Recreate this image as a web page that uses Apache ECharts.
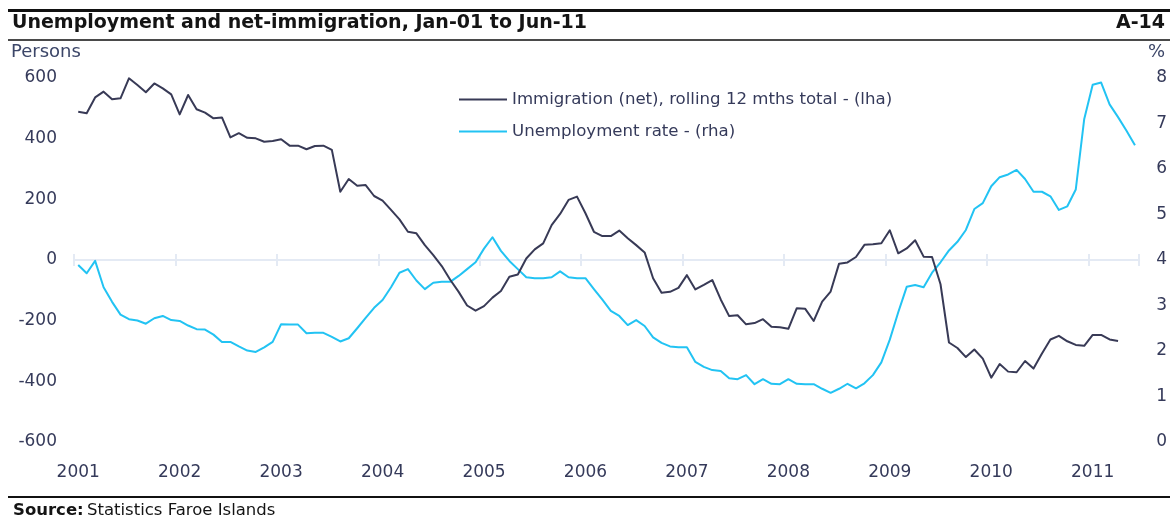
<!DOCTYPE html>
<html>
<head>
<meta charset="utf-8">
<script src="https://cdn.jsdelivr.net/npm/echarts@6/dist/echarts.min.js"></script>
<style>
  html, body { margin: 0; padding: 0; background: #ffffff; }
  #chart { width: 1170px; height: 517px; }
</style>
</head>
<body>
<div id="chart"></div>
<script>
// ---- data ----
const years = ['2001','2002','2003','2004','2005','2006','2007','2008','2009','2010','2011'];
const monthCodes = ['01','02','03','04','05','06','07','08','09','10','11','12'];
const categories = years.flatMap(y => monthCodes.map(m => y + '-' + m)).slice(0, 126); // Jan-01 .. Jun-11

const immigrationNet = [
  489, 484, 536, 555, 530, 533, 599, 577, 553, 582, 566, 546,
  480, 544, 497, 486, 467, 470, 404, 418, 403, 401, 390, 392,
  398, 377, 377, 365, 376, 377, 363, 225, 267, 245, 247, 211,
  196, 165, 134, 93, 88, 49, 16, -20, -65, -105, -150, -167,
  -152, -124, -102, -55, -48, 5, 35, 55, 115, 152, 198, 209,
  154, 93, 79, 79, 97, 72, 49, 25, -60, -108, -105, -92,
  -50, -97, -82, -66, -130, -185, -182, -212, -208, -195, -220, -222,
  -227, -159, -161, -201, -137, -104, -12, -8, 10, 50, 52, 55,
  98, 22, 38, 65, 11, 10, -80, -272, -290, -320, -295, -325,
  -388, -343, -368, -370, -333, -358, -308, -262, -250, -268, -280, -283,
  -247, -247, -262, -267, null, null
];

const unemploymentRate = [
  3.89, 3.71, 3.98, 3.40, 3.08, 2.80, 2.70, 2.67, 2.60, 2.72, 2.77, 2.68,
  2.66, 2.56, 2.48, 2.47, 2.36, 2.20, 2.20, 2.10, 2.01, 1.98, 2.08, 2.20,
  2.59, 2.58, 2.58, 2.39, 2.40, 2.40, 2.31, 2.21, 2.28, 2.50, 2.73, 2.95,
  3.12, 3.40, 3.72, 3.80, 3.55, 3.36, 3.50, 3.52, 3.52, 3.65, 3.80, 3.95,
  4.25, 4.50, 4.20, 3.98, 3.80, 3.62, 3.60, 3.60, 3.62, 3.75, 3.62, 3.60,
  3.60, 3.36, 3.13, 2.88, 2.77, 2.57, 2.68, 2.55, 2.30, 2.18, 2.10, 2.08,
  2.08, 1.76, 1.65, 1.58, 1.56, 1.40, 1.38, 1.47, 1.27, 1.38, 1.28, 1.27,
  1.38, 1.28, 1.27, 1.27, 1.17, 1.08, 1.17, 1.28, 1.18, 1.29, 1.47, 1.75,
  2.25, 2.85, 3.41, 3.45, 3.40, 3.72, 3.95, 4.21, 4.40, 4.66, 5.12, 5.25,
  5.62, 5.82, 5.88, 5.98, 5.78, 5.50, 5.50, 5.40, 5.10, 5.18, 5.55, 7.10,
  7.85, 7.90, 7.42, 7.14, 6.84, 6.52
];

const seriesNames = ['Immigration (net), rolling 12 mths total - (lha)', 'Unemployment rate - (rha)'];
const leftTicks = { min: -600, max: 600, interval: 200 };
const rightTicks = { min: 0, max: 8, interval: 1 };

// ---- chart ----
const FONT = 'DejaVu Sans';
const LABEL_COLOR = '#353a5a';
const DARK = '#383a56';
const CYAN = '#22c3f3';
const AXIS_COLOR = '#e4eaf4';

const chart = echarts.init(document.getElementById('chart'), null, { renderer: 'canvas' });

const option = {
  animation: false,
  backgroundColor: '#ffffff',
  textStyle: { fontFamily: FONT },
  grid: { left: 74, right: 30, top: 78, bottom: 75, containLabel: false },
  legend: {
    orient: 'vertical',
    left: 454,
    top: 85,
    itemWidth: 48,
    itemHeight: 2,
    itemGap: 13,
    icon: 'rect',
    data: seriesNames,
    textStyle: { fontFamily: FONT, fontSize: 16.6, color: LABEL_COLOR, lineHeight: 19 }
  },
  xAxis: [
    {
      type: 'category',
      data: categories,
      boundaryGap: true,
      position: 'bottom',
      axisLine: { show: false, onZero: false },
      axisTick: { show: false },
      splitLine: { show: false },
      axisLabel: {
        interval: 11,
        margin: 22,
        fontFamily: FONT,
        fontSize: 17,
        color: LABEL_COLOR,
        formatter: v => v.slice(0, 4)
      }
    },
    {
      type: 'category',
      data: categories,
      boundaryGap: true,
      position: 'bottom',
      axisLine: { show: true, onZero: true, onZeroAxisIndex: 0, lineStyle: { color: AXIS_COLOR, width: 2 } },
      axisTick: { show: true, interval: 11, length: 6, inside: false, lineStyle: { color: AXIS_COLOR, width: 2 } },
      axisLabel: { show: false },
      splitLine: { show: false }
    },
    {
      type: 'category',
      data: categories,
      boundaryGap: true,
      position: 'bottom',
      axisLine: { show: false, onZero: true, onZeroAxisIndex: 0 },
      axisTick: { show: true, interval: 11, length: 6, inside: true, lineStyle: { color: AXIS_COLOR, width: 2 } },
      axisLabel: { show: false },
      splitLine: { show: false }
    }
  ],
  yAxis: [
    {
      type: 'value',
      position: 'left',
      min: leftTicks.min, max: leftTicks.max, interval: leftTicks.interval,
      axisLine: { show: false },
      axisTick: { show: false },
      splitLine: { show: false },
      axisLabel: { margin: 17, fontFamily: FONT, fontSize: 17, color: LABEL_COLOR }
    },
    {
      type: 'value',
      position: 'right',
      min: rightTicks.min, max: rightTicks.max, interval: rightTicks.interval,
      axisLine: { show: false },
      axisTick: { show: false },
      splitLine: { show: false },
      axisLabel: { margin: 17, fontFamily: FONT, fontSize: 17, color: LABEL_COLOR }
    }
  ],
  series: [
    {
      name: seriesNames[0],
      type: 'line',
      xAxisIndex: 0,
      yAxisIndex: 0,
      data: immigrationNet,
      showSymbol: false,
      symbol: 'none',
      lineStyle: { color: DARK, width: 2, join: 'round' },
      itemStyle: { color: DARK },
      z: 3
    },
    {
      name: seriesNames[1],
      type: 'line',
      xAxisIndex: 0,
      yAxisIndex: 1,
      data: unemploymentRate,
      showSymbol: false,
      symbol: 'none',
      lineStyle: { color: CYAN, width: 2, join: 'round' },
      itemStyle: { color: CYAN },
      z: 2
    }
  ],
  graphic: [
    { type: 'rect', shape: { x: 8, y: 9, width: 1162, height: 3 }, style: { fill: '#111111' }, silent: true },
    { type: 'rect', shape: { x: 8, y: 39, width: 1162, height: 2 }, style: { fill: '#4a4a4a' }, silent: true },
    { type: 'rect', shape: { x: 8, y: 496, width: 1162, height: 2 }, style: { fill: '#111111' }, silent: true },
    { type: 'text', left: 12, top: 14, style: { text: 'Unemployment and net-immigration, Jan-01 to Jun-11', font: 'bold 19px "DejaVu Sans"', fill: '#141414' } },
    { type: 'text', right: 5, top: 14, style: { text: 'A-14', font: 'bold 19px "DejaVu Sans"', fill: '#141414' } },
    { type: 'text', left: 11, top: 43, style: { text: 'Persons', font: '18px "DejaVu Sans"', fill: '#3c4668' } },
    { type: 'text', right: 5, top: 43, style: { text: '%', font: '18px "DejaVu Sans"', fill: '#3c4668' } },
    { type: 'text', left: 13, top: 502, style: { rich: { b: { font: 'bold 16.5px "DejaVu Sans"', fill: '#141414' }, n: { font: '16.5px "DejaVu Sans"', fill: '#141414' } }, text: '{b|Source:} {n|Statistics Faroe Islands}' } }
  ]
};

chart.setOption(option);
</script>
</body>
</html>
